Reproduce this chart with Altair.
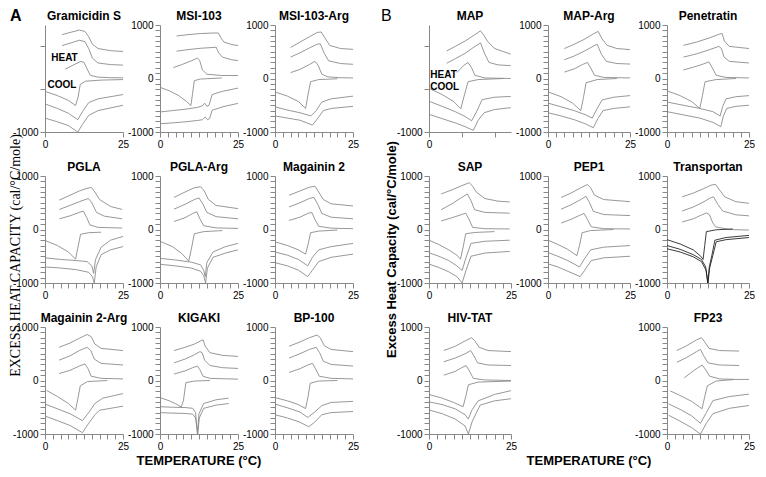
import altair as alt
import pandas as pd

# ---------------- data: each panel = 3 heating scans + 3 cooling scans, [T (°C), Cp (cal/°C/mole)] ----------------
GRAMICIDIN_S = [
    [[5.5, 820], [8, 860], [11, 905], [12.8, 880], [14, 780], [15.2, 640], [17, 560], [21, 520], [25, 505]],
    [[5.5, 615], [8, 660], [11, 715], [12.8, 690], [14, 560], [15.2, 380], [17, 290], [21, 260], [25, 250]],
    [[6.5, 175], [9, 250], [11.5, 320], [12.5, 300], [13.5, 180], [14.5, 60], [17, 25], [21, 15], [25, 12]],
    [[0, -240], [4, -320], [7.5, -410], [9.8, -505], [10.6, -350], [11.3, -110], [13, -50], [18, -30], [25, -20]],
    [[0, -475], [4, -560], [7.5, -650], [10.5, -770], [12, -620], [14, -450], [17, -380], [25, -300]],
    [[0, -740], [4, -810], [7.5, -880], [10.5, -1000], [12, -860], [14, -690], [17, -600], [25, -500]],
]
MSI_103 = [
    [[5.3, 795], [9, 820], [13, 840], [17, 850], [18.7, 850], [19.5, 760], [20.5, 680], [23, 635], [25, 615]],
    [[5.3, 510], [9, 540], [13, 565], [17, 580], [18, 585], [18.8, 480], [20, 400], [23, 350], [25, 335]],
    [[4.3, 205], [7, 260], [10, 330], [12, 380], [12.7, 340], [13.6, 160], [15, 80], [19.8, 56], [25, 55]],
    [[0, -165], [3, -230], [6, -320], [8.5, -430], [9.9, -505], [10.4, -300], [11, -40], [13, -10], [19.8, 10]],
    [[0, -625], [4, -600], [8, -575], [12, -540], [13.6, -510], [14.3, -460], [15, -520], [15.7, -505], [16.7, -300], [20, -240], [25, -180]],
    [[0, -845], [4, -830], [8, -810], [12, -785], [13.6, -770], [14.5, -720], [15.2, -770], [15.9, -750], [16.7, -595], [20, -530], [25, -465]],
]
MSI_103_ARG = [
    [[5, 580], [8, 680], [11, 780], [13.5, 860], [14.8, 870], [16, 760], [17.5, 620], [21, 560], [25, 545]],
    [[5, 400], [8, 480], [11, 570], [13.5, 640], [14.5, 650], [15.8, 470], [17.2, 330], [21, 280], [25, 265]],
    [[5, 110], [8, 170], [11, 260], [12.8, 320], [13.8, 250], [15, 80], [17, 30], [21, 15], [25, 10]],
    [[0, -250], [4, -330], [7.5, -430], [9.8, -560], [10.6, -300], [11.4, -60], [14, -20], [20, -5]],
    [[0, -530], [4, -590], [8, -640], [11.5, -700], [13.2, -600], [15, -440], [18, -380], [25, -330]],
    [[0, -700], [4, -740], [8, -780], [12, -870], [13.5, -760], [15.5, -600], [18, -560], [25, -520]],
]
PGLA = [
    [[4.6, 550], [8, 640], [11, 720], [13.5, 770], [14.9, 785], [16, 700], [17.5, 560], [21, 430], [24.7, 375]],
    [[4.6, 375], [8, 450], [11, 520], [13.9, 580], [15, 500], [16.5, 320], [19, 250], [24.7, 200]],
    [[4.6, 200], [8, 255], [11, 320], [12.3, 345], [13.4, 220], [14.4, 85], [17, 40], [24.7, 27]],
    [[0, -205], [4, -300], [7.5, -420], [9.8, -555], [10.5, -350], [11.4, -90], [14, -60], [18, -50]],
    [[0, -530], [5, -560], [10, -580], [13.5, -600], [15, -680], [15.6, -820], [16.2, -560], [18, -330], [21, -200], [25, -130]],
    [[0, -700], [5, -720], [10, -750], [14, -800], [15.2, -880], [15.8, -1000], [16.4, -700], [18, -470], [21, -380], [25, -320]],
]
PGLA_ARG = [
    [[4.5, 600], [8, 700], [11, 780], [13, 800], [14.2, 720], [15.5, 560], [18, 450], [25, 390]],
    [[4.5, 380], [8, 470], [11, 560], [12.5, 590], [13.8, 470], [15, 320], [18, 240], [25, 200]],
    [[4.5, 150], [8, 220], [10.5, 300], [11.8, 330], [12.8, 200], [14, 70], [18, 30], [25, 20]],
    [[0, -220], [4, -320], [7, -450], [9.2, -590], [10, -380], [11, -80], [14, -40], [20, -20]],
    [[0, -540], [5, -570], [10, -610], [13, -660], [14, -760], [14.5, -880], [15, -620], [17, -420], [21, -320], [25, -260]],
    [[0, -650], [5, -680], [10, -720], [13, -780], [14, -860], [14.6, -1000], [15.2, -720], [17, -520], [21, -440], [25, -380]],
]
MAGAININ_2 = [
    [[4.5, 640], [8, 720], [11, 790], [12.8, 810], [14, 700], [15.5, 560], [18, 480], [25, 440]],
    [[4.5, 420], [8, 500], [11, 580], [12.5, 600], [13.8, 460], [15, 300], [18, 230], [25, 200]],
    [[4.5, 170], [8, 230], [10.5, 300], [11.8, 320], [12.8, 190], [14, 60], [18, 25], [25, 15]],
    [[0, -230], [4, -300], [7.5, -380], [9.8, -460], [10.6, -280], [11.4, -60], [14, -30], [20, -10]],
    [[0, -420], [4, -480], [7.5, -560], [10.5, -680], [12, -520], [14, -380], [18, -320], [25, -260]],
    [[0, -620], [4, -680], [7.5, -760], [10.5, -880], [12, -760], [14, -600], [18, -520], [25, -460]],
]
MAGAININ_2_ARG = [
    [[4.5, 620], [8, 700], [11, 790], [13.5, 860], [14.8, 820], [16, 680], [18, 600], [25, 560]],
    [[4.5, 380], [8, 460], [11, 560], [13.5, 620], [14.7, 560], [15.8, 400], [18, 320], [25, 290]],
    [[4.5, 130], [8, 190], [11, 270], [12.8, 310], [13.8, 220], [14.8, 80], [18, 40], [25, 30]],
    [[0.5, -185], [4, -300], [7.5, -430], [9.8, -555], [10.5, -350], [11.3, -100], [13.6, -20], [20, 0]],
    [[0, -440], [4, -530], [8, -620], [12, -750], [14, -600], [16, -430], [18.5, -330], [25, -245]],
    [[0, -665], [4, -750], [8, -840], [12, -975], [14, -800], [16, -640], [17.5, -555], [25, -480]],
]
KIGAKI = [
    [[4.5, 560], [8, 620], [11, 680], [13, 740], [13.8, 760], [14.5, 640], [16, 520], [20, 470], [25, 450]],
    [[4.5, 330], [8, 400], [11, 480], [12.8, 540], [13.5, 520], [14.3, 380], [16, 280], [20, 240], [25, 225]],
    [[4.5, 120], [8, 180], [10.5, 240], [12, 270], [12.8, 200], [13.8, 80], [16, 40], [25, 25]],
    [[0, -320], [3, -380], [5.5, -450], [6.8, -495], [7.5, -380], [8.3, -40], [11, -10], [16, 0]],
    [[0, -490], [4, -500], [8, -505], [10.5, -520], [11.4, -600], [12, -1000], [12.5, -620], [14, -430], [18, -360], [22, -330]],
    [[0, -600], [4, -610], [8, -615], [10.5, -630], [11.4, -700], [12.1, -1000], [12.6, -700], [14, -520], [18, -460], [22, -430]],
]
BP_100 = [
    [[4.5, 640], [8, 720], [11, 800], [13.5, 850], [14.5, 800], [15.8, 650], [18, 580], [25, 540]],
    [[4.5, 420], [8, 500], [11, 580], [13.2, 620], [14.3, 520], [15.5, 360], [18, 300], [25, 270]],
    [[4.5, 150], [8, 220], [10.5, 290], [12, 320], [13, 220], [14.2, 80], [18, 40], [25, 30]],
    [[0, -320], [4, -380], [7.5, -450], [9.8, -525], [10.6, -300], [11.3, -50], [14, -10], [20, 0]],
    [[0, -440], [4, -510], [8, -590], [10.5, -690], [12.5, -600], [15, -470], [18, -410], [25, -390]],
    [[0, -640], [4, -700], [8, -780], [10.8, -865], [12.5, -790], [15, -640], [18, -600], [25, -580]],
]
MAP = [
    [[5.4, 515], [8, 600], [11, 700], [14, 820], [15.7, 890], [16.8, 800], [17.9, 690], [20, 560], [24.9, 455]],
    [[5.4, 285], [8, 370], [11, 470], [14, 600], [15.7, 665], [17, 460], [18.3, 300], [21, 255], [24.9, 240]],
    [[8.5, 110], [10.5, 240], [11.9, 300], [13, 200], [14, 60], [17, 10], [24.9, 0]],
    [[0, -185], [4, -300], [7.5, -430], [9.7, -565], [10.7, -330], [11.9, -60], [15, -20], [22.7, 0]],
    [[0, -425], [4, -520], [8, -620], [11, -710], [13, -790], [14.5, -620], [16.2, -395], [20, -350], [24.9, -335]],
    [[0, -670], [4, -750], [8, -830], [11, -900], [13.5, -970], [15, -780], [16.8, -640], [20, -580], [24.9, -545]],
]
MAP_ARG = [
    [[5, 560], [8, 640], [11, 730], [14, 840], [15.3, 880], [16.5, 740], [18, 620], [21, 560], [25, 540]],
    [[5, 350], [8, 420], [11, 510], [14, 610], [15, 640], [16.3, 450], [17.8, 320], [21, 280], [25, 270]],
    [[5, 120], [8, 180], [10.5, 260], [12, 300], [13, 200], [14.2, 60], [17, 20], [25, 10]],
    [[0, -250], [4, -340], [7.5, -460], [10, -600], [10.8, -360], [11.6, -80], [15, -20], [21, 0]],
    [[0, -460], [4, -530], [8, -600], [11.5, -680], [13.5, -740], [15, -560], [16.5, -400], [20, -350], [25, -320]],
    [[0, -640], [4, -700], [8, -770], [11.5, -850], [13.8, -920], [15.2, -750], [16.8, -600], [20, -560], [25, -530]],
]
PENETRATIN = [
    [[5, 620], [9, 680], [13, 760], [16, 830], [16.8, 840], [17.5, 700], [19, 600], [25, 560]],
    [[5, 400], [9, 460], [13, 540], [15.8, 600], [16.6, 560], [17.4, 400], [19, 320], [25, 290]],
    [[5, 160], [8, 210], [11, 270], [12.8, 310], [13.8, 200], [15, 60], [18, 20], [25, 10]],
    [[0, -230], [4, -320], [7.5, -430], [10, -560], [10.8, -320], [11.6, -60], [15, -20], [21, 0]],
    [[0, -440], [5, -500], [10, -560], [14, -620], [16.2, -700], [17, -520], [18, -380], [21, -340], [25, -320]],
    [[0, -620], [5, -680], [10, -740], [14, -820], [16.4, -900], [17.2, -700], [18.2, -560], [21, -520], [25, -500]],
]
SAP = [
    [[3.7, 665], [7, 740], [10, 820], [12.3, 875], [13.3, 810], [14.4, 700], [17, 580], [21, 530], [24.6, 515]],
    [[3.7, 370], [7, 480], [10, 600], [11.7, 665], [12.8, 540], [13.9, 370], [17, 320], [24.6, 305]],
    [[3.7, 160], [7, 220], [10, 280], [11.2, 305], [12.2, 190], [13.3, 40], [17, 15], [24.6, 10]],
    [[0, -200], [3, -280], [6, -380], [8.5, -480], [9.6, -555], [10.4, -330], [11.2, -80], [14, -55], [20, -40]],
    [[0, -435], [3, -500], [6, -580], [8.5, -680], [10.1, -765], [11.3, -520], [12.8, -260], [17, -220], [24.6, -200]],
    [[0, -645], [3, -710], [6, -790], [8.5, -880], [10.1, -1000], [11.3, -760], [12.8, -500], [17, -440], [24.6, -410]],
]
PEP1 = [
    [[4, 600], [7, 680], [10, 780], [12, 840], [13, 780], [14.2, 640], [17, 560], [25, 520]],
    [[4, 380], [7, 460], [10, 560], [11.6, 620], [12.7, 500], [13.8, 340], [17, 280], [25, 260]],
    [[4, 120], [7, 190], [9.5, 260], [11, 300], [12, 190], [13.2, 50], [17, 15], [25, 10]],
    [[0, -200], [3, -280], [6, -370], [8.8, -490], [9.6, -300], [10.4, -60], [13, -20], [20, 0]],
    [[0, -430], [3, -500], [6, -580], [9.6, -700], [11, -560], [13, -380], [17, -330], [25, -300]],
    [[0, -640], [3, -700], [6, -780], [9.8, -880], [11.2, -760], [13.2, -580], [17, -530], [25, -500]],
]
TRANSPORTAN = [
    [[4.6, 610], [8, 680], [11, 760], [13.5, 830], [14.8, 845], [16, 740], [17.6, 610], [21, 520], [25, 490]],
    [[4.6, 345], [8, 420], [11, 510], [13.2, 590], [14.2, 610], [15.5, 470], [17, 345], [21, 275], [25, 255]],
    [[4.6, 140], [8, 200], [10.5, 270], [12, 310], [12.9, 280], [14, 120], [14.8, 50], [19, 0], [25, -10]],
    [[0, -190], [4, -270], [8, -380], [10.3, -500], [11, -560], [11.5, -300], [12, -40], [15, -5], [20, 10]],
    [[0, -300], [4, -370], [8, -470], [10.5, -560], [11.8, -700], [12.4, -1000], [12.9, -700], [13.8, -450], [14.6, -200], [18, -150], [25, -110]],
    [[0, -360], [4, -420], [8, -510], [10.5, -600], [11.9, -760], [12.5, -1000], [13, -720], [14, -480], [15, -230], [18, -190], [25, -150]],
]
HIV_TAT = [
    [[4.5, 560], [8, 640], [11, 740], [13, 800], [14, 740], [15.3, 620], [18, 560], [25, 540]],
    [[4.5, 350], [8, 420], [11, 500], [12.7, 560], [13.7, 460], [14.8, 330], [18, 290], [25, 280]],
    [[4.5, 100], [8, 170], [10, 240], [11.3, 280], [12.3, 180], [13.5, 40], [17, 10], [25, 0]],
    [[0, -260], [4, -330], [7.5, -410], [10.4, -490], [11.2, -300], [12, -80], [15, -30], [25, -10]],
    [[0, -400], [4, -450], [8, -530], [11, -640], [12, -720], [13, -560], [15, -380], [20, -260], [25, -190]],
    [[0, -550], [4, -620], [8, -720], [11, -850], [12, -1000], [13.2, -760], [15.6, -460], [20, -380], [25, -340]],
]
FP23 = [
    [[3, 560], [6, 650], [9, 760], [10.5, 800], [11.5, 720], [12.8, 600], [16, 560], [22, 550]],
    [[3, 340], [6, 430], [9, 540], [10.2, 580], [11.2, 460], [12.5, 330], [16, 290], [22, 280]],
    [[5.3, 50], [8, 180], [10.7, 290], [11.8, 200], [13, 80], [16, 30], [21, 20], [25, 20]],
    [[1, -195], [4, -280], [7.5, -390], [10.7, -528], [11.5, -300], [12.3, -100], [15, -10], [20.4, 18]],
    [[0.5, -437], [4, -540], [7.5, -660], [10.2, -800], [12, -600], [14, -376], [19, -300], [25, -255]],
    [[0.5, -650], [4, -760], [7.5, -880], [10.2, -1000], [12, -800], [14, -620], [19, -520], [25, -467]],
]

PANEL_NAMES_A = ["Gramicidin S", "MSI-103", "MSI-103-Arg", "PGLA", "PGLA-Arg", "Magainin 2",
                 "Magainin 2-Arg", "KIGAKI", "BP-100"]
PANEL_DATA_A = [GRAMICIDIN_S, MSI_103, MSI_103_ARG, PGLA, PGLA_ARG, MAGAININ_2,
                MAGAININ_2_ARG, KIGAKI, BP_100]
PANEL_NAMES_B = ["MAP", "MAP-Arg", "Penetratin", "SAP", "PEP1", "Transportan", "HIV-TAT", None, "FP23"]
PANEL_DATA_B = [MAP, MAP_ARG, PENETRATIN, SAP, PEP1, TRANSPORTAN, HIV_TAT, None, FP23]

# HEAT / COOL labels: [panel, label, T, value]
SCAN_LABELS = [["Gramicidin S", "HEAT", 2.0, 380], ["Gramicidin S", "COOL", 0.8, -130],
               ["MAP", "HEAT", 0.4, 60], ["MAP", "COOL", 0.4, -160]]

# ---------------- layout ----------------
W_A, W_B, W_S, H = 78, 82, 2, 107
FONT = "Liberation Sans"
NO_FRAME = alt.ViewBackground(stroke="transparent", strokeWidth=0)

x_axis = alt.Axis(values=[i * 2.5 for i in range(11)],
                  labelExpr="datum.value == 0 ? '0' : (datum.value == 25 ? '25' : '')",
                  title=None, grid=False, labelOverlap=False, labelFlush=False)
y_axis = alt.Axis(values=list(range(-1000, 1001, 100)),
                  labelExpr="datum.value == 1000 ? '1000' : (datum.value == 0 ? '0' : (datum.value == -1000 ? '-1000' : ''))",
                  title=None, grid=False, labelOverlap=False, labelFlush=False)


def text_layer(txt, x, y, size=13, weight="bold", font=FONT, angle=0, align="center", baseline="middle"):
    return alt.Chart(pd.DataFrame({"t": [txt]})).mark_text(
        font=font, fontSize=size, fontWeight=weight, angle=angle, align=align, baseline=baseline, color="black"
    ).encode(text="t:N", x=alt.value(x), y=alt.value(y))


def blank(w, txt="", x=0, y=0, **kw):
    return text_layer(txt, x, y, **kw).properties(width=w, height=H, view=NO_FRAME)


def panel(name, curves, w, extras=()):
    rows = []
    for i, c in enumerate(curves):
        shade = "#1a1a1a" if (name == "Transportan" and i >= 3) else "#858585"
        for t, v in c:
            rows.append({"curve": i, "T": t, "v": v, "shade": shade})
    df = pd.DataFrame(rows)
    x = alt.X("T:Q", scale=alt.Scale(domain=[0, 25], nice=False, zero=False), axis=x_axis)
    y = alt.Y("v:Q", scale=alt.Scale(domain=[-1000, 1000], nice=False), axis=y_axis)
    layers = [alt.Chart(df).mark_line(strokeWidth=0.85).encode(
        x=x, y=y, detail="curve:N", color=alt.Color("shade:N", scale=None))]
    labs = [r for r in SCAN_LABELS if r[0] == name]
    if labs:
        ldf = pd.DataFrame(labs, columns=["panel", "label", "T", "v"])
        layers.append(alt.Chart(ldf).mark_text(font=FONT, fontSize=10, fontWeight="bold", align="left",
                                               baseline="middle", color="black")
                      .encode(x=alt.X("T:Q"), y=alt.Y("v:Q"), text="label:N"))
    # panel name, drawn as text above the plot
    layers.append(text_layer(name, w / 2, -9, size=12))
    layers.extend(extras)
    return alt.layer(*layers).properties(width=w, height=H, view=NO_FRAME)


cells = []
for r in range(3):
    for c in range(3):
        k = r * 3 + c
        extras = []
        if k == 0:
            extras.append(text_layer("A", -35, -17, size=16, align="left", baseline="top"))
        if k == 3:
            extras.append(text_layer("EXCESS HEAT CAPACITY (cal/°C/mole)", -29, H / 2 + 26, size=14,
                                     weight="normal", font="Liberation Serif", angle=270))
        if k == 7:
            extras.append(text_layer("TEMPERATURE (°C)", W_A / 2, H + 27))
        cells.append(panel(PANEL_NAMES_A[k], PANEL_DATA_A[k], W_A, extras))
    # spacer column between groups A and B
    if r == 0:
        cells.append(blank(W_S, "B", x=-9, y=-17, size=16, weight="normal", align="left", baseline="top"))
    elif r == 1:
        cells.append(blank(W_S, "Excess Heat Capacity (cal/°C/mole)", x=2, y=H / 2 + 20, size=13, angle=270))
    else:
        cells.append(blank(W_S, ""))
    for c in range(3):
        k = r * 3 + c
        if PANEL_NAMES_B[k] is None:
            cells.append(blank(W_B, "TEMPERATURE (°C)", x=W_B / 2, y=H + 27, size=13))
        else:
            cells.append(panel(PANEL_NAMES_B[k], PANEL_DATA_B[k], W_B))

chart = alt.concat(*cells, columns=7, spacing={"row": 44, "column": 37}, bounds="flush",
                   padding={"left": 0, "top": 0, "right": 2, "bottom": 2}).configure_view(
    stroke="transparent", strokeWidth=0).configure_axis(
    domainColor="black", tickColor="black", domainWidth=1, tickWidth=0.8, tickSize=2,
    labelFont=FONT, labelFontSize=7, labelFontWeight="bold", labelColor="black", labelPadding=1
).configure(background="white")

chart.save("out.html", embed_options={"renderer": "svg", "actions": False})
